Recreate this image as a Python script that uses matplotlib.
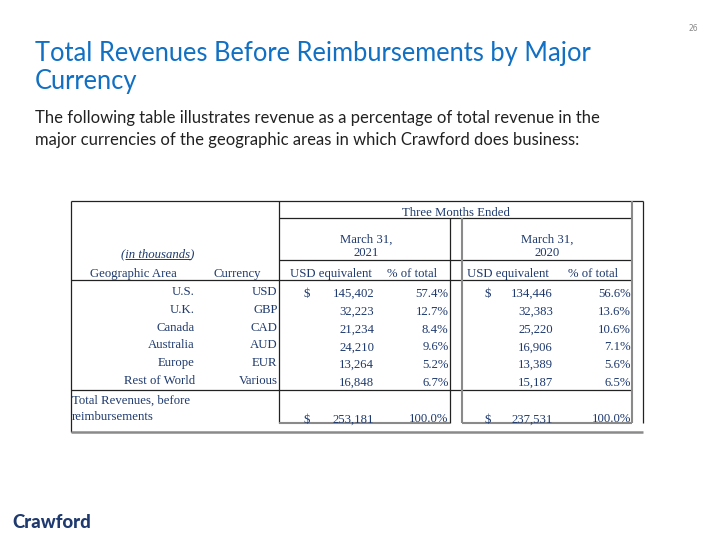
import matplotlib
matplotlib.use("Agg")
import matplotlib.pyplot as plt

# ---- data ----
areas = ["U.S.", "U.K.", "Canada", "Australia", "Europe", "Rest of World"]
currencies = ["USD", "GBP", "CAD", "AUD", "EUR", "Various"]
usd_2021 = [145402, 32223, 21234, 24210, 13264, 16848]
pct_2021 = [57.4, 12.7, 8.4, 9.6, 5.2, 6.7]
usd_2020 = [134446, 32383, 25220, 16906, 13389, 15187]
pct_2020 = [56.6, 13.6, 10.6, 7.1, 5.6, 6.5]
total_2021 = 253181
total_2020 = 237531
total_pct = [100.0, 100.0]
periods = ["March 31,\n2021", "March 31,\n2020"]
col_headers = ["Geographic Area", "Currency", "USD equivalent", "% of total",
               "USD equivalent", "% of total"]

title_lines = ["Total Revenues Before Reimbursements by Major", "Currency"]
subtitle_lines = [
    "The following table illustrates revenue as a percentage of total revenue in the",
    "major currencies of the geographic areas in which Crawford does business:",
]

# ---- style ----
TITLE_C = "#1170C4"
TXT_C = "#1F3A6E"
LINE_DARK = "#222222"
LINE_GRAY = "#8A8A8A"
SERIF = "Liberation Serif"
FS = 9.2

fig = plt.figure(figsize=(7.2, 5.4), dpi=100)
ax = fig.add_axes([0, 0, 1, 1])
ax.set_xlim(0, 720)
ax.set_ylim(540, 0)
ax.axis("off")

# slide texts
for i, line in enumerate(title_lines):
    ax.text(35, 61 + i * 28, line, fontsize=18.4, color=TITLE_C, family="Lato",
            va="baseline", ha="left")
for i, line in enumerate(subtitle_lines):
    ax.text(35, 123 + i * 22, line, fontsize=11.95, color="#222222", family="Lato",
            va="baseline", ha="left")
ax.text(693, 31, "26", fontsize=5.5, color="#888888", ha="center", va="baseline")
ax.text(12, 528, "Crawford", fontsize=13.3, color="#1F3A6E", family="Lato",
        fontweight="black", ha="left", va="baseline")

# ---- table layout ----
XL, XA, XB1, XB2, XG, XR = 71, 279, 450, 462, 632, 643
YT, YM, YP, YH, YD, YB, YBB = 201, 218, 260, 280, 390, 423, 432

def hl(y, x0, x1, c=LINE_DARK, lw=0.9):
    ax.plot([x0, x1], [y, y], color=c, lw=lw, solid_capstyle="butt")

def vl(x, y0, y1, c=LINE_DARK, lw=0.9):
    ax.plot([x, x], [y0, y1], color=c, lw=lw, solid_capstyle="butt")

hl(YT, XL, XR)
vl(XL, YT, YBB)
hl(YBB, XL, XR, c=LINE_GRAY, lw=1.8)
vl(XA, YT, YB)
hl(YM, XA, XG)
hl(YP, XA, XG)
hl(YH, XL, XG)
hl(YD, XL, XG)
vl(XB1, YM, YB)
vl(XB2, YM, YB, c=LINE_GRAY, lw=1.5)
vl(XG, YT, YB, c=LINE_GRAY, lw=1.5)
vl(XR, YT, YB)
hl(YB, XA, XB1, c=LINE_GRAY, lw=1.5)
hl(YB, XB2, XG, c=LINE_GRAY, lw=1.5)

def t(x, y, s, ha="center", **kw):
    ax.text(x, y, s, fontsize=FS, color=TXT_C, family=SERIF, ha=ha,
            va="baseline", **kw)

# header texts
t(456, 216, "Three Months Ended")
for cx, p in zip([366, 547], periods):
    l1, l2 = p.split("\n")
    t(cx, 243, l1)
    t(cx, 256.5, l2)
t(158, 257, "(in thousands)", style="italic")
hl(258.5, 125, 191, c=TXT_C, lw=0.7)

hdr_x = [133.5, 237.5, 331, 412, 507.5, 593]
for x, h in zip(hdr_x, col_headers):
    t(x, 277, h)

# data rows
y0, step = 295, 17.8
for i, (a, c, u1, p1, u2, p2) in enumerate(zip(areas, currencies, usd_2021,
                                              pct_2021, usd_2020, pct_2020)):
    yl = y0 + i * step
    yv = yl + 2
    t(195, yl, a, ha="right")
    t(277.5, yl, c, ha="right")
    if i == 0:
        t(307, yv, "$")
        t(488, yv, "$")
    t(374, yv, f"{u1:,}", ha="right")
    t(448.5, yv, f"{p1:.1f}%", ha="right")
    t(553, yv, f"{u2:,}", ha="right")
    t(631, yv, f"{p2:.1f}%", ha="right")

# total row
t(72, 404, "Total Revenues, before", ha="left")
t(72, 420, "reimbursements", ha="left")
t(307, 422.5, "$")
t(374, 422.5, f"{total_2021:,}", ha="right")
t(448.5, 422.5, f"{total_pct[0]:.1f}%", ha="right")
t(488, 422.5, "$")
t(553, 422.5, f"{total_2020:,}", ha="right")
t(631, 422.5, f"{total_pct[1]:.1f}%", ha="right")

fig.savefig("out.png", dpi=100)
